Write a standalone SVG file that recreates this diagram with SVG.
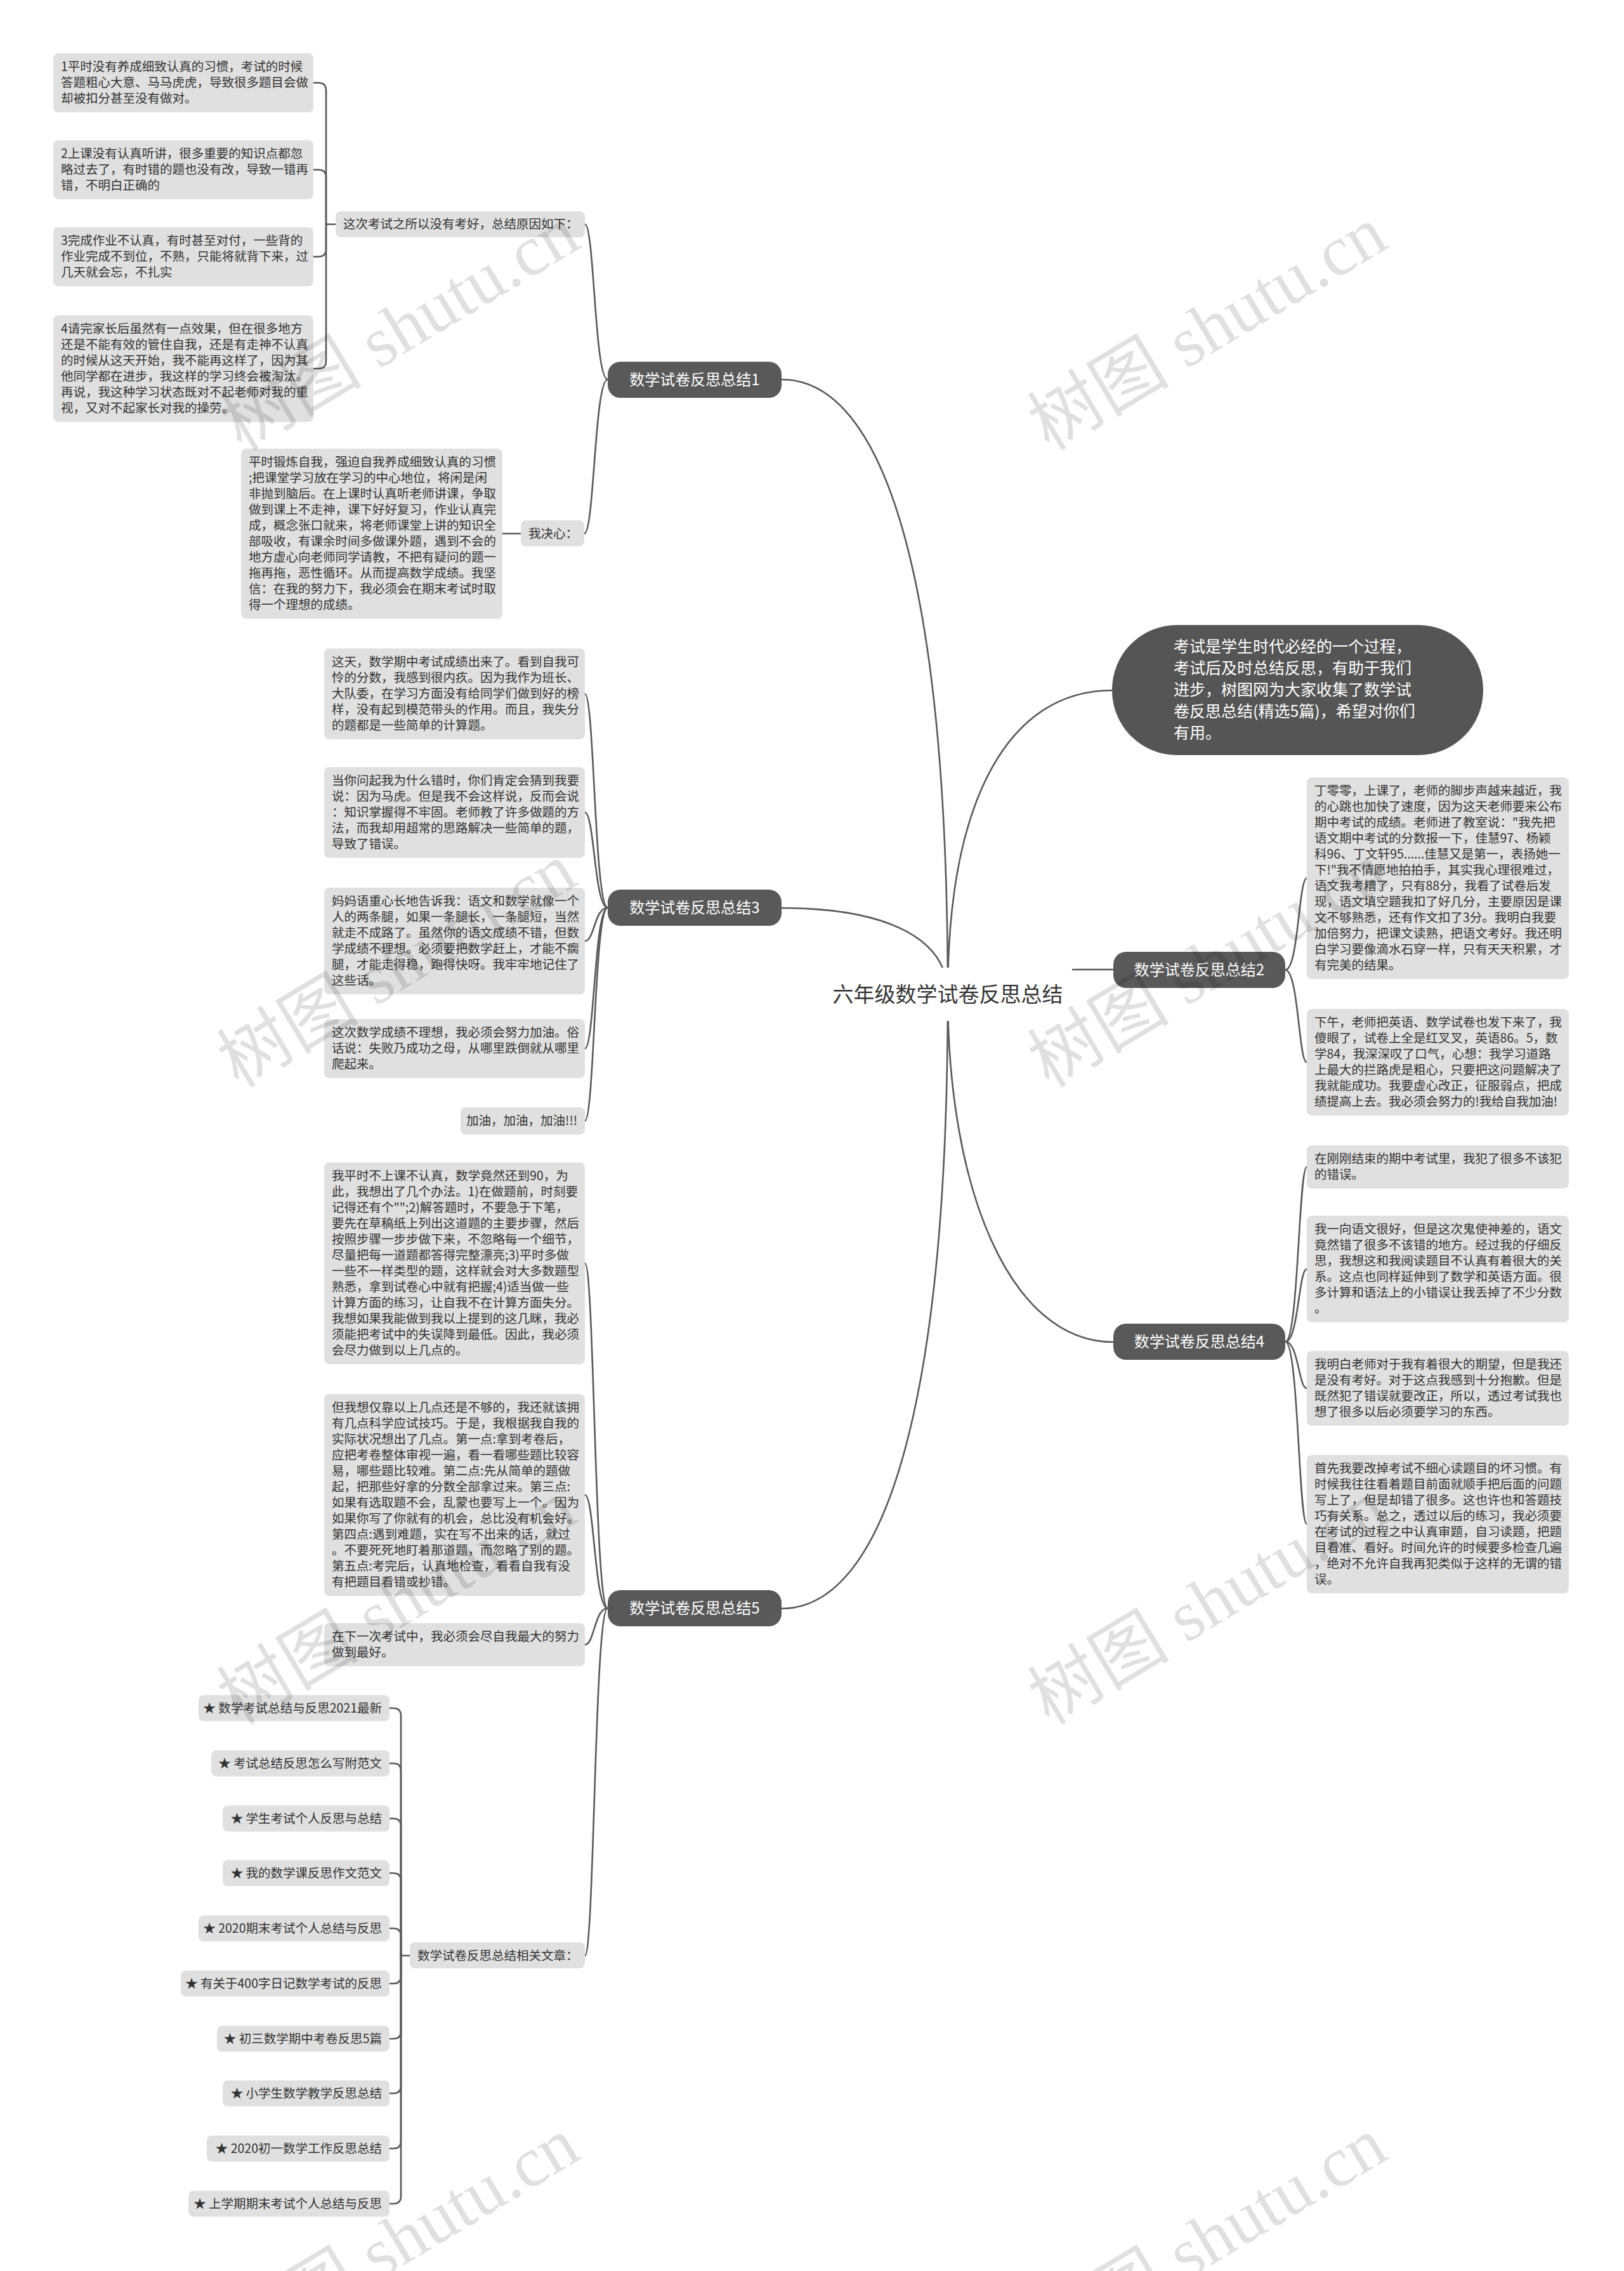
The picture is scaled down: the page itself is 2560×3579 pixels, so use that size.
<svg xmlns="http://www.w3.org/2000/svg" width="2560" height="3579" viewBox="0 0 2560 3579">
<style>
text{font-family:"Noto Sans CJK SC","Noto Sans",sans-serif;}
.bg{fill:#ffffff;}
.leaf{fill:#e0e0e0;}
.lt{font-size:19.5px;fill:#333333;}
.br{fill:#595959;}
.bt{font-size:24px;fill:#ffffff;text-anchor:middle;}
.ln{fill:none;stroke:#595959;stroke-width:2.6;stroke-linecap:round;}
.wm{font-size:112px;fill:#000000;fill-opacity:0.12;text-anchor:middle;}
.wms{font-family:"Liberation Serif",serif;}
</style>
<rect class="bg" x="0" y="0" width="2560" height="3579"/>

<g id="connectors">
<path class="ln" d="M1494,1567 C1494,900 1390,598 1232,598"/>
<path class="ln" d="M1494,1567 C1494,1470 1380,1431 1232,1431"/>
<path class="ln" d="M1494,1567 C1494,2230 1390,2535 1232,2535"/>
<path class="ln" d="M1494,1567 C1494,1260 1590,1088 1753,1088"/>
<path class="ln" d="M1494,1567 C1494,1870 1590,2115 1755,2115"/>
<path class="ln" d="M1600,1528 H1755"/>
<path class="ln" d="M958,598 C937,598 937,353.5 922,353.5"/>
<path class="ln" d="M958,598 C937,598 937,841 921,841"/>
<path class="ln" d="M529,353.5 H514"/>
<path class="ln" d="M514,353.5 V142.5 Q514,130.5 502,130.5 H494"/>
<path class="ln" d="M514,353.5 V279.5 Q514,267.5 502,267.5 H494"/>
<path class="ln" d="M514,353.5 V392.5 Q514,404.5 502,404.5 H494"/>
<path class="ln" d="M514,353.5 V569 Q514,581 502,581 H494"/>
<path class="ln" d="M792,841 H821"/>
<path class="ln" d="M958,1430.5 C937,1430.5 937,1093.5 922,1093.5"/>
<path class="ln" d="M958,1430.5 C937,1430.5 937,1280.5 922,1280.5"/>
<path class="ln" d="M958,1430.5 C937,1430.5 937,1483 922,1483"/>
<path class="ln" d="M958,1430.5 C937,1430.5 937,1652.5 922,1652.5"/>
<path class="ln" d="M958,1430.5 C937,1430.5 937,1766.5 922,1766.5"/>
<path class="ln" d="M958,2534.5 C937,2534.5 937,1991 922,1991"/>
<path class="ln" d="M958,2534.5 C937,2534.5 937,2356 922,2356"/>
<path class="ln" d="M958,2534.5 C937,2534.5 937,2592 922,2592"/>
<path class="ln" d="M958,2534.5 C937,2534.5 937,3082 922,3082"/>
<path class="ln" d="M646,3082 H632"/>
<path class="ln" d="M632,3082 V2704 Q632,2692 620,2692 H614"/>
<path class="ln" d="M632,3082 V2791 Q632,2779 620,2779 H614"/>
<path class="ln" d="M632,3082 V2878 Q632,2866 620,2866 H614"/>
<path class="ln" d="M632,3082 V2964 Q632,2952 620,2952 H614"/>
<path class="ln" d="M632,3082 V3051 Q632,3039 620,3039 H614"/>
<path class="ln" d="M632,3082 V3114 Q632,3126 620,3126 H614"/>
<path class="ln" d="M632,3082 V3201 Q632,3213 620,3213 H614"/>
<path class="ln" d="M632,3082 V3287 Q632,3299 620,3299 H614"/>
<path class="ln" d="M632,3082 V3374 Q632,3386 620,3386 H614"/>
<path class="ln" d="M632,3082 V3461 Q632,3473 620,3473 H614"/>
<path class="ln" d="M2026,1528.5 C2047,1528.5 2047,1384 2060,1384"/>
<path class="ln" d="M2026,1528.5 C2047,1528.5 2047,1674 2060,1674"/>
<path class="ln" d="M2026,2114.5 C2047,2114.5 2047,1839 2060,1839"/>
<path class="ln" d="M2026,2114.5 C2047,2114.5 2047,2000 2060,2000"/>
<path class="ln" d="M2026,2114.5 C2047,2114.5 2047,2188 2060,2188"/>
<path class="ln" d="M2026,2114.5 C2047,2114.5 2047,2402 2060,2402"/>
</g>

<g id="center">
<rect class="bg" x="1298" y="1525" width="392" height="84"/>
<text x="1494" y="1579" style="font-size:33px;fill:#333333;text-anchor:middle">六年级数学试卷反思总结</text>
</g>

<g id="intro">
<rect x="1753" y="985" width="585" height="205" rx="102" fill="#555555"/>
<text x="1850" y="1028" style="font-size:25px;fill:#ffffff"><tspan x="1850">考试是学生时代必经的一个过程，</tspan><tspan x="1850" dy="34">考试后及时总结反思，有助于我们</tspan><tspan x="1850" dy="34">进步，树图网为大家收集了数学试</tspan><tspan x="1850" dy="34">卷反思总结(精选5篇)，希望对你们</tspan><tspan x="1850" dy="34">有用。</tspan></text>
</g>

<g id="branch1">
<rect class="br" x="958" y="570" width="274" height="57" rx="20"/>
<text class="bt" x="1095" y="607">数学试卷反思总结1</text>
</g>
<g id="b1-reason">
<rect class="leaf" x="529" y="333" width="393" height="41" rx="8"/>
<text class="lt" x="541" y="360">这次考试之所以没有考好，总结原因如下：</text>
</g>
<g id="b1-r1">
<rect class="leaf" x="84" y="84" width="410" height="93" rx="8"/>
<text class="lt" x="96" y="112"><tspan x="96">1平时没有养成细致认真的习惯，考试的时候</tspan><tspan x="96" dy="25">答题粗心大意、马马虎虎，导致很多题目会做</tspan><tspan x="96" dy="25">却被扣分甚至没有做对。</tspan></text>
</g>
<g id="b1-r2">
<rect class="leaf" x="84" y="221" width="410" height="93" rx="8"/>
<text class="lt" x="96" y="249"><tspan x="96">2上课没有认真听讲，很多重要的知识点都忽</tspan><tspan x="96" dy="25">略过去了，有时错的题也没有改，导致一错再</tspan><tspan x="96" dy="25">错，不明白正确的</tspan></text>
</g>
<g id="b1-r3">
<rect class="leaf" x="84" y="358" width="410" height="93" rx="8"/>
<text class="lt" x="96" y="386"><tspan x="96">3完成作业不认真，有时甚至对付，一些背的</tspan><tspan x="96" dy="25">作业完成不到位，不熟，只能将就背下来，过</tspan><tspan x="96" dy="25">几天就会忘，不扎实</tspan></text>
</g>
<g id="b1-r4">
<rect class="leaf" x="84" y="497" width="410" height="168" rx="8"/>
<text class="lt" x="96" y="525"><tspan x="96">4请完家长后虽然有一点效果，但在很多地方</tspan><tspan x="96" dy="25">还是不能有效的管住自我，还是有走神不认真</tspan><tspan x="96" dy="25">的时候从这天开始，我不能再这样了，因为其</tspan><tspan x="96" dy="25">他同学都在进步，我这样的学习终会被淘汰。</tspan><tspan x="96" dy="25">再说，我这种学习状态既对不起老师对我的重</tspan><tspan x="96" dy="25">视，又对不起家长对我的操劳。</tspan></text>
</g>
<g id="b1-resolve">
<rect class="leaf" x="821" y="820" width="100" height="41" rx="8"/>
<text class="lt" x="833" y="848">我决心：</text>
</g>
<g id="b1-resolve-text">
<rect class="leaf" x="380" y="707" width="412" height="268" rx="8"/>
<text class="lt" x="392" y="735"><tspan x="392">平时锻炼自我，强迫自我养成细致认真的习惯</tspan><tspan x="392" dy="25">;把课堂学习放在学习的中心地位，将闲是闲</tspan><tspan x="392" dy="25">非抛到脑后。在上课时认真听老师讲课，争取</tspan><tspan x="392" dy="25">做到课上不走神，课下好好复习，作业认真完</tspan><tspan x="392" dy="25">成，概念张口就来，将老师课堂上讲的知识全</tspan><tspan x="392" dy="25">部吸收，有课余时间多做课外题，遇到不会的</tspan><tspan x="392" dy="25">地方虚心向老师同学请教，不把有疑问的题一</tspan><tspan x="392" dy="25">拖再拖，恶性循环。从而提高数学成绩。我坚</tspan><tspan x="392" dy="25">信：在我的努力下，我必须会在期末考试时取</tspan><tspan x="392" dy="25">得一个理想的成绩。</tspan></text>
</g>

<g id="branch3">
<rect class="br" x="958" y="1402" width="274" height="57" rx="20"/>
<text class="bt" x="1095" y="1439">数学试卷反思总结3</text>
</g>
<g id="b3-a">
<rect class="leaf" x="511" y="1022" width="411" height="143" rx="8"/>
<text class="lt" x="523" y="1050"><tspan x="523">这天，数学期中考试成绩出来了。看到自我可</tspan><tspan x="523" dy="25">怜的分数，我感到很内疚。因为我作为班长、</tspan><tspan x="523" dy="25">大队委，在学习方面没有给同学们做到好的榜</tspan><tspan x="523" dy="25">样，没有起到模范带头的作用。而且，我失分</tspan><tspan x="523" dy="25">的题都是一些简单的计算题。</tspan></text>
</g>
<g id="b3-b">
<rect class="leaf" x="511" y="1209" width="411" height="143" rx="8"/>
<text class="lt" x="523" y="1237"><tspan x="523">当你问起我为什么错时，你们肯定会猜到我要</tspan><tspan x="523" dy="25">说：因为马虎。但是我不会这样说，反而会说</tspan><tspan x="523" dy="25">：知识掌握得不牢固。老师教了许多做题的方</tspan><tspan x="523" dy="25">法，而我却用超常的思路解决一些简单的题，</tspan><tspan x="523" dy="25">导致了错误。</tspan></text>
</g>
<g id="b3-c">
<rect class="leaf" x="511" y="1399" width="411" height="168" rx="8"/>
<text class="lt" x="523" y="1427"><tspan x="523">妈妈语重心长地告诉我：语文和数学就像一个</tspan><tspan x="523" dy="25">人的两条腿，如果一条腿长，一条腿短，当然</tspan><tspan x="523" dy="25">就走不成路了。虽然你的语文成绩不错，但数</tspan><tspan x="523" dy="25">学成绩不理想。必须要把数学赶上，才能不瘸</tspan><tspan x="523" dy="25">腿，才能走得稳，跑得快呀。我牢牢地记住了</tspan><tspan x="523" dy="25">这些话。</tspan></text>
</g>
<g id="b3-d">
<rect class="leaf" x="511" y="1606" width="411" height="93" rx="8"/>
<text class="lt" x="523" y="1634"><tspan x="523">这次数学成绩不理想，我必须会努力加油。俗</tspan><tspan x="523" dy="25">话说：失败乃成功之母，从哪里跌倒就从哪里</tspan><tspan x="523" dy="25">爬起来。</tspan></text>
</g>
<g id="b3-e">
<rect class="leaf" x="726" y="1745" width="196" height="43" rx="8"/>
<text class="lt" x="910" y="1773" style="text-anchor:end">加油，加油，加油!!!</text>
</g>

<g id="branch5">
<rect class="br" x="958" y="2506" width="274" height="57" rx="20"/>
<text class="bt" x="1095" y="2543">数学试卷反思总结5</text>
</g>
<g id="b5-a">
<rect class="leaf" x="511" y="1832" width="411" height="318" rx="8"/>
<text class="lt" x="523" y="1860"><tspan x="523">我平时不上课不认真，数学竟然还到90，为</tspan><tspan x="523" dy="25">此，我想出了几个办法。1)在做题前，时刻要</tspan><tspan x="523" dy="25">记得还有个"";2)解答题时，不要急于下笔，</tspan><tspan x="523" dy="25">要先在草稿纸上列出这道题的主要步骤，然后</tspan><tspan x="523" dy="25">按照步骤一步步做下来，不忽略每一个细节，</tspan><tspan x="523" dy="25">尽量把每一道题都答得完整漂亮;3)平时多做</tspan><tspan x="523" dy="25">一些不一样类型的题，这样就会对大多数题型</tspan><tspan x="523" dy="25">熟悉，拿到试卷心中就有把握;4)适当做一些</tspan><tspan x="523" dy="25">计算方面的练习，让自我不在计算方面失分。</tspan><tspan x="523" dy="25">我想如果我能做到我以上提到的这几眯，我必</tspan><tspan x="523" dy="25">须能把考试中的失误降到最低。因此，我必须</tspan><tspan x="523" dy="25">会尽力做到以上几点的。</tspan></text>
</g>
<g id="b5-b">
<rect class="leaf" x="511" y="2197" width="411" height="318" rx="8"/>
<text class="lt" x="523" y="2225"><tspan x="523">但我想仅靠以上几点还是不够的，我还就该拥</tspan><tspan x="523" dy="25">有几点科学应试技巧。于是，我根据我自我的</tspan><tspan x="523" dy="25">实际状况想出了几点。第一点:拿到考卷后，</tspan><tspan x="523" dy="25">应把考卷整体审视一遍，看一看哪些题比较容</tspan><tspan x="523" dy="25">易，哪些题比较难。第二点:先从简单的题做</tspan><tspan x="523" dy="25">起，把那些好拿的分数全部拿过来。第三点:</tspan><tspan x="523" dy="25">如果有选取题不会，乱蒙也要写上一个。因为</tspan><tspan x="523" dy="25">如果你写了你就有的机会，总比没有机会好。</tspan><tspan x="523" dy="25">第四点:遇到难题，实在写不出来的话，就过</tspan><tspan x="523" dy="25">。不要死死地盯着那道题，而忽略了别的题。</tspan><tspan x="523" dy="25">第五点:考完后，认真地检查，看看自我有没</tspan><tspan x="523" dy="25">有把题目看错或抄错。</tspan></text>
</g>
<g id="b5-c">
<rect class="leaf" x="511" y="2558" width="411" height="68" rx="8"/>
<text class="lt" x="523" y="2586"><tspan x="523">在下一次考试中，我必须会尽自我最大的努力</tspan><tspan x="523" dy="25">做到最好。</tspan></text>
</g>
<g id="b5-related">
<rect class="leaf" x="646" y="3061" width="276" height="41" rx="8"/>
<text class="lt" x="658" y="3089">数学试卷反思总结相关文章：</text>
</g>
<g id="rel1"><rect class="leaf" x="313" y="2671.5" width="301" height="41" rx="8"/><text class="lt" x="602" y="2699" style="text-anchor:end">★ 数学考试总结与反思2021最新</text></g>
<g id="rel2"><rect class="leaf" x="333" y="2758.5" width="281" height="41" rx="8"/><text class="lt" x="602" y="2786" style="text-anchor:end">★ 考试总结反思怎么写附范文</text></g>
<g id="rel3"><rect class="leaf" x="351" y="2845.5" width="263" height="41" rx="8"/><text class="lt" x="602" y="2873" style="text-anchor:end">★ 学生考试个人反思与总结</text></g>
<g id="rel4"><rect class="leaf" x="351" y="2931.5" width="263" height="41" rx="8"/><text class="lt" x="602" y="2959" style="text-anchor:end">★ 我的数学课反思作文范文</text></g>
<g id="rel5"><rect class="leaf" x="313" y="3018.5" width="301" height="41" rx="8"/><text class="lt" x="602" y="3046" style="text-anchor:end">★ 2020期末考试个人总结与反思</text></g>
<g id="rel6"><rect class="leaf" x="285" y="3105.5" width="329" height="41" rx="8"/><text class="lt" x="602" y="3133" style="text-anchor:end">★ 有关于400字日记数学考试的反思</text></g>
<g id="rel7"><rect class="leaf" x="342" y="3192.5" width="272" height="41" rx="8"/><text class="lt" x="602" y="3220" style="text-anchor:end">★ 初三数学期中考卷反思5篇</text></g>
<g id="rel8"><rect class="leaf" x="351" y="3278.5" width="263" height="41" rx="8"/><text class="lt" x="602" y="3306" style="text-anchor:end">★ 小学生数学教学反思总结</text></g>
<g id="rel9"><rect class="leaf" x="326" y="3365.5" width="288" height="41" rx="8"/><text class="lt" x="602" y="3393" style="text-anchor:end">★ 2020初一数学工作反思总结</text></g>
<g id="rel10"><rect class="leaf" x="297" y="3452.5" width="317" height="41" rx="8"/><text class="lt" x="602" y="3480" style="text-anchor:end">★ 上学期期末考试个人总结与反思</text></g>

<g id="branch2">
<rect class="br" x="1755" y="1500" width="271" height="57" rx="20"/>
<text class="bt" x="1890.5" y="1537">数学试卷反思总结2</text>
</g>
<g id="b2-a">
<rect class="leaf" x="2060" y="1225" width="413" height="318" rx="8"/>
<text class="lt" x="2072" y="1253"><tspan x="2072">丁零零，上课了，老师的脚步声越来越近，我</tspan><tspan x="2072" dy="25">的心跳也加快了速度，因为这天老师要来公布</tspan><tspan x="2072" dy="25">期中考试的成绩。老师进了教室说："我先把</tspan><tspan x="2072" dy="25">语文期中考试的分数报一下，佳慧97、杨颖</tspan><tspan x="2072" dy="25">科96、丁文轩95......佳慧又是第一，表扬她一</tspan><tspan x="2072" dy="25">下!"我不情愿地拍拍手，其实我心理很难过，</tspan><tspan x="2072" dy="25">语文我考糟了，只有88分，我看了试卷后发</tspan><tspan x="2072" dy="25">现，语文填空题我扣了好几分，主要原因是课</tspan><tspan x="2072" dy="25">文不够熟悉，还有作文扣了3分。我明白我要</tspan><tspan x="2072" dy="25">加倍努力，把课文读熟，把语文考好。我还明</tspan><tspan x="2072" dy="25">白学习要像滴水石穿一样，只有天天积累，才</tspan><tspan x="2072" dy="25">有完美的结果。</tspan></text>
</g>
<g id="b2-b">
<rect class="leaf" x="2060" y="1590" width="413" height="168" rx="8"/>
<text class="lt" x="2072" y="1618"><tspan x="2072">下午，老师把英语、数学试卷也发下来了，我</tspan><tspan x="2072" dy="25">傻眼了，试卷上全是红叉叉，英语86。5，数</tspan><tspan x="2072" dy="25">学84，我深深叹了口气，心想：我学习道路</tspan><tspan x="2072" dy="25">上最大的拦路虎是粗心，只要把这问题解决了</tspan><tspan x="2072" dy="25">我就能成功。我要虚心改正，征服弱点，把成</tspan><tspan x="2072" dy="25">绩提高上去。我必须会努力的!我给自我加油!</tspan></text>
</g>

<g id="branch4">
<rect class="br" x="1755" y="2086" width="271" height="57" rx="20"/>
<text class="bt" x="1890.5" y="2123">数学试卷反思总结4</text>
</g>
<g id="b4-a">
<rect class="leaf" x="2060" y="1805" width="413" height="68" rx="8"/>
<text class="lt" x="2072" y="1833"><tspan x="2072">在刚刚结束的期中考试里，我犯了很多不该犯</tspan><tspan x="2072" dy="25">的错误。</tspan></text>
</g>
<g id="b4-b">
<rect class="leaf" x="2060" y="1916" width="413" height="168" rx="8"/>
<text class="lt" x="2072" y="1944"><tspan x="2072">我一向语文很好，但是这次鬼使神差的，语文</tspan><tspan x="2072" dy="25">竟然错了很多不该错的地方。经过我的仔细反</tspan><tspan x="2072" dy="25">思，我想这和我阅读题目不认真有着很大的关</tspan><tspan x="2072" dy="25">系。这点也同样延伸到了数学和英语方面。很</tspan><tspan x="2072" dy="25">多计算和语法上的小错误让我丢掉了不少分数</tspan><tspan x="2072" dy="25">。</tspan></text>
</g>
<g id="b4-c">
<rect class="leaf" x="2060" y="2129" width="413" height="118" rx="8"/>
<text class="lt" x="2072" y="2157"><tspan x="2072">我明白老师对于我有着很大的期望，但是我还</tspan><tspan x="2072" dy="25">是没有考好。对于这点我感到十分抱歉。但是</tspan><tspan x="2072" dy="25">既然犯了错误就要改正，所以，透过考试我也</tspan><tspan x="2072" dy="25">想了很多以后必须要学习的东西。</tspan></text>
</g>
<g id="b4-d">
<rect class="leaf" x="2060" y="2293" width="413" height="218" rx="8"/>
<text class="lt" x="2072" y="2321"><tspan x="2072">首先我要改掉考试不细心读题目的坏习惯。有</tspan><tspan x="2072" dy="25">时候我往往看着题目前面就顺手把后面的问题</tspan><tspan x="2072" dy="25">写上了，但是却错了很多。这也许也和答题技</tspan><tspan x="2072" dy="25">巧有关系。总之，透过以后的练习，我必须要</tspan><tspan x="2072" dy="25">在考试的过程之中认真审题，自习读题，把题</tspan><tspan x="2072" dy="25">目看准、看好。时间允许的时候要多检查几遍</tspan><tspan x="2072" dy="25">，绝对不允许自我再犯类似于这样的无谓的错</tspan><tspan x="2072" dy="25">误。</tspan></text>
</g>

<g id="watermarks">
<text class="wm" transform="translate(650,550) rotate(-31)">树图<tspan class="wms"> shutu.cn</tspan></text>
<text class="wm" transform="translate(1923,550) rotate(-31)">树图<tspan class="wms"> shutu.cn</tspan></text>
<text class="wm" transform="translate(645,1554) rotate(-31)">树图<tspan class="wms"> shutu.cn</tspan></text>
<text class="wm" transform="translate(1923,1554) rotate(-31)">树图<tspan class="wms"> shutu.cn</tspan></text>
<text class="wm" transform="translate(645,2558) rotate(-31)">树图<tspan class="wms"> shutu.cn</tspan></text>
<text class="wm" transform="translate(1923,2558) rotate(-31)">树图<tspan class="wms"> shutu.cn</tspan></text>
<text class="wm" transform="translate(650,3562) rotate(-31)">树图<tspan class="wms"> shutu.cn</tspan></text>
<text class="wm" transform="translate(1923,3562) rotate(-31)">树图<tspan class="wms"> shutu.cn</tspan></text>
</g>
</svg>
